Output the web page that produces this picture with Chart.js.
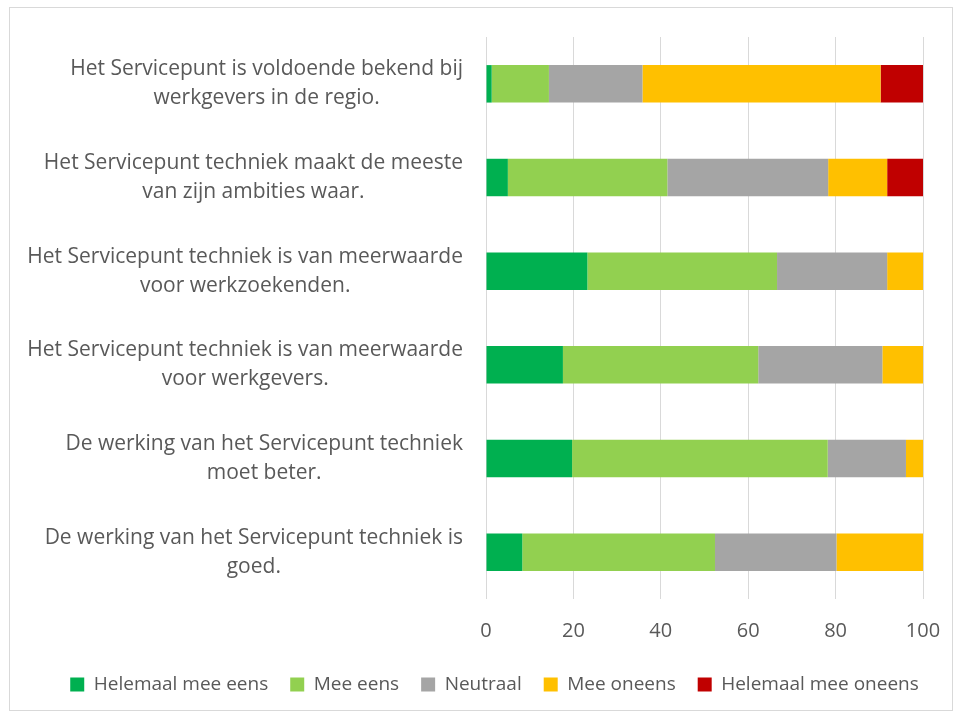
<!DOCTYPE html>
<html>
<head>
<meta charset="utf-8">
<script src="https://cdn.jsdelivr.net/npm/chart.js@4/dist/chart.umd.min.js"></script>
<style>
  body { margin: 0; background: #fff; }
  #frame { position: absolute; left: 9px; top: 7px; width: 942px; height: 702px; border: 1px solid #d9d9d9; }
</style>
</head>
<body>
<div id="frame"><canvas id="chart" width="942" height="702"></canvas></div>
<script>
// statements (two lines each, as in the picture)
const statements = [
  ["Het Servicepunt is voldoende bekend bij", "werkgevers in de regio."],
  ["Het Servicepunt techniek maakt de meeste", "van zijn ambities waar."],
  ["Het Servicepunt techniek is van meerwaarde", "voor werkzoekenden."],
  ["Het Servicepunt techniek is van meerwaarde", "voor werkgevers."],
  ["De werking van het Servicepunt techniek", "moet beter."],
  ["De werking van het Servicepunt techniek is", "goed."]
];

// percentages per answer
const helemaalEens   = [1.3, 5.0, 23.2, 17.6, 19.7, 8.3];
const meeEens        = [13.1, 36.5, 43.4, 44.7, 58.5, 44.1];
const neutraal       = [21.4, 36.8, 25.2, 28.4, 17.9, 27.8];
const meeOneens      = [54.5, 13.5, 8.2, 9.3, 3.9, 19.8];
const helemaalOneens = [9.7, 8.2, 0, 0, 0, 0];

const xTicks = [0, 20, 40, 60, 80, 100];

const textColor = '#595959';
const fontName = '"Open Sans", Lato, sans-serif';

// draws the category labels right-aligned as a block, lines centered inside it
const blockLabels = {
  id: 'blockLabels',
  afterLayout(chart) {
    // legend sits a bit right of centre in the original
    chart.legend.left += 28;
    chart.legend.right += 28;
  },
  afterDraw(chart) {
    const ctx = chart.ctx;
    const yScale = chart.scales.y;
    const right = chart.chartArea.left - 23;
    const lineHeight = 29;
    ctx.save();
    ctx.font = '21px ' + fontName;
    ctx.fillStyle = textColor;
    ctx.textAlign = 'center';
    ctx.textBaseline = 'middle';
    chart.data.labels.forEach((lines, i) => {
      const y = yScale.getPixelForTick(i);
      let w = 0;
      lines.forEach(l => { w = Math.max(w, ctx.measureText(l).width); });
      const cx = right - w / 2;
      const top = y - (lines.length - 1) * lineHeight / 2;
      lines.forEach((l, j) => ctx.fillText(l, cx, top + j * lineHeight));
    });
    ctx.restore();
  }
};

new Chart(document.getElementById('chart'), {
  type: 'bar',
  data: {
    labels: statements,
    datasets: [
      { label: 'Helemaal mee eens', data: helemaalEens, backgroundColor: '#00b050' },
      { label: 'Mee eens', data: meeEens, backgroundColor: '#92d050' },
      { label: 'Neutraal', data: neutraal, backgroundColor: '#a5a5a5' },
      { label: 'Mee oneens', data: meeOneens, backgroundColor: '#ffc000' },
      { label: 'Helemaal mee oneens', data: helemaalOneens, backgroundColor: '#c00000' }
    ]
  },
  options: {
    indexAxis: 'y',
    responsive: false,
    animation: false,
    categoryPercentage: 0.8,
    barPercentage: 0.5,
    layout: { padding: { top: 29, right: 29, bottom: 6, left: 0 } },
    scales: {
      x: {
        stacked: true,
        min: 0,
        max: 100,
        afterBuildTicks: scale => { scale.ticks = xTicks.map(v => ({ value: v })); },
        afterFit: scale => {
          scale.height = 54;
          scale.paddingLeft = 0;
          scale.paddingRight = 0;
        },
        grid: { color: '#d9d9d9', drawTicks: false },
        border: { display: false },
        ticks: { padding: 20, color: textColor, font: { family: fontName, size: 20 } }
      },
      y: {
        stacked: true,
        grid: { display: false },
        border: { display: false },
        ticks: { display: false },
        afterFit: scale => { scale.width = 476; }
      }
    },
    plugins: {
      legend: {
        position: 'bottom',
        labels: {
          color: textColor,
          boxWidth: 14,
          boxHeight: 14,
          padding: 22,
          font: { family: fontName, size: 19 }
        }
      },
      tooltip: { enabled: false }
    }
  },
  plugins: [blockLabels]
});
</script>
</body>
</html>
